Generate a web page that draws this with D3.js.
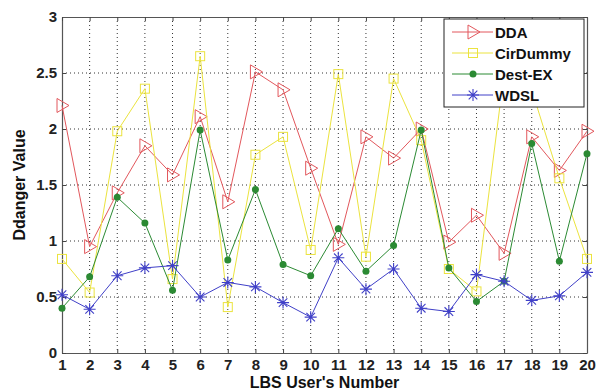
<!DOCTYPE html>
<html>
<head>
<meta charset="utf-8">
<script src="https://cdn.jsdelivr.net/npm/d3@7"></script>
<style>
  body { margin: 0; background: #fff; }
  text { font-family: "Liberation Sans", Arial, sans-serif; font-weight: bold; }
</style>
</head>
<body>
<svg id="chart" width="598" height="392"></svg>
<script>
const users = d3.range(1, 21);
const yTicks = [0, 0.5, 1, 1.5, 2, 2.5, 3];

const dda = [2.21, 0.95, 1.43, 1.85, 1.59, 2.11, 1.35, 2.51, 2.35, 1.65,
  0.97, 1.93, 1.74, 2.0, 0.99, 1.23, 0.89, 1.93, 1.63, 1.98];
const cirDummy = [0.84, 0.54, 1.98, 2.36, 0.66, 2.65, 0.41, 1.77, 1.93, 0.92,
  2.49, 0.86, 2.45, 1.9, 0.75, 0.55, 2.5, 2.35, 1.56, 0.84];
const destEx = [0.4, 0.68, 1.39, 1.16, 0.56, 1.99, 0.83, 1.46, 0.79, 0.69,
  1.11, 0.73, 0.96, 1.99, 0.76, 0.46, 0.64, 1.87, 0.82, 1.78];
const wdsl = [0.52, 0.39, 0.69, 0.76, 0.78, 0.5, 0.63, 0.59, 0.45, 0.32,
  0.85, 0.57, 0.75, 0.4, 0.37, 0.7, 0.64, 0.47, 0.51, 0.72];

const series = [
  { name: 'DDA', values: dda, color: '#e2575c', marker: 'tri' },
  { name: 'CirDummy', values: cirDummy, color: '#ebe33e', marker: 'square' },
  { name: 'Dest-EX', values: destEx, color: '#2b8a33', marker: 'dot' },
  { name: 'WDSL', values: wdsl, color: '#4040c8', marker: 'star' },
];

const margin = { top: 17, right: 11, bottom: 39, left: 62 };
const width = 598 - margin.left - margin.right;
const height = 392 - margin.top - margin.bottom;

const svg = d3.select('#chart');
const g = svg.append('g').attr('transform', `translate(${margin.left},${margin.top})`);

const x = d3.scaleLinear().domain([1, 20]).range([0, width]);
const y = d3.scaleLinear().domain([0, 3]).range([height, 0]);

// dotted grid
g.append('g')
  .selectAll('line')
  .data(users.slice(1, -1))
  .join('line')
  .attr('x1', (d) => x(d)).attr('x2', (d) => x(d))
  .attr('y1', 0).attr('y2', height)
  .attr('stroke', '#333').attr('stroke-width', 1)
  .attr('stroke-dasharray', '1,3');

g.append('g')
  .selectAll('line')
  .data(yTicks.slice(1, -1))
  .join('line')
  .attr('x1', 0).attr('x2', width)
  .attr('y1', (d) => y(d)).attr('y2', (d) => y(d))
  .attr('stroke', '#333').attr('stroke-width', 1)
  .attr('stroke-dasharray', '1,3');

// axes
const xAxis = g.append('g')
  .attr('transform', `translate(0,${height})`)
  .call(d3.axisBottom(x).tickValues(users).tickFormat(d3.format('d')).tickSizeInner(-4).tickSizeOuter(0).tickPadding(6));
const yAxis = g.append('g')
  .call(d3.axisLeft(y).tickValues(yTicks).tickFormat((d) => String(d)).tickSizeInner(-4).tickSizeOuter(0).tickPadding(5));
g.append('g')
  .call(d3.axisTop(x).tickValues(users).tickFormat('').tickSizeInner(-4).tickSizeOuter(0));
g.append('g')
  .attr('transform', `translate(${width},0)`)
  .call(d3.axisRight(y).tickValues(yTicks).tickFormat('').tickSizeInner(-4).tickSizeOuter(0));

g.selectAll('.domain').attr('stroke', '#555').attr('stroke-width', 1.2);
g.selectAll('.tick line').attr('stroke', '#444');
xAxis.selectAll('text').attr('font-size', 15).attr('fill', '#222');
yAxis.selectAll('text').attr('font-size', 15).attr('fill', '#222');

svg.append('text')
  .attr('x', margin.left + width / 2)
  .attr('y', 388)
  .attr('text-anchor', 'middle')
  .attr('font-size', 16)
  .attr('fill', '#111')
  .text("LBS  User's  Number");

svg.append('text')
  .attr('transform', `translate(25,${margin.top + height / 2}) rotate(-90)`)
  .attr('text-anchor', 'middle')
  .attr('font-size', 16)
  .attr('fill', '#111')
  .text('Ddanger  Value');

function drawMarker(sel, type, color) {
  if (type === 'tri') {
    sel.append('path').attr('d', 'M-5,-7L7,0L-5,7Z')
      .attr('fill', 'none').attr('stroke', color).attr('stroke-width', 1);
  } else if (type === 'square') {
    sel.append('rect').attr('x', -4.5).attr('y', -4.5).attr('width', 9).attr('height', 9)
      .attr('fill', 'none').attr('stroke', color).attr('stroke-width', 1);
  } else if (type === 'dot') {
    sel.append('circle').attr('r', 3.5).attr('fill', color);
  } else {
    sel.append('path')
      .attr('d', 'M-6,0L6,0M0,-6L0,6M-4.3,-4.3L4.3,4.3M-4.3,4.3L4.3,-4.3')
      .attr('stroke', color).attr('stroke-width', 1.1);
  }
}

const line = d3.line().x((d, i) => x(users[i])).y((d) => y(d));

series.forEach((s) => {
  const sg = g.append('g');
  sg.append('path')
    .datum(s.values)
    .attr('d', line)
    .attr('fill', 'none')
    .attr('stroke', s.color)
    .attr('stroke-width', 1);
  sg.selectAll('g.m')
    .data(s.values)
    .join('g')
    .attr('class', 'm')
    .attr('transform', (d, i) => `translate(${x(users[i])},${y(d)})`)
    .each(function () { drawMarker(d3.select(this), s.marker, s.color); });
});

// legend
const leg = svg.append('g').attr('transform', 'translate(444,19)');
leg.append('rect').attr('width', 140).attr('height', 88)
  .attr('fill', '#fff').attr('stroke', '#222').attr('stroke-width', 1);
series.forEach((s, i) => {
  const row = leg.append('g').attr('transform', `translate(0,${13 + i * 21})`);
  row.append('line').attr('x1', 8).attr('x2', 49).attr('y1', 0).attr('y2', 0)
    .attr('stroke', s.color).attr('stroke-width', 1);
  drawMarker(row.append('g').attr('transform', 'translate(29,0)'), s.marker, s.color);
  row.append('text').attr('x', 51).attr('y', 5.5)
    .attr('font-size', 15).attr('fill', '#111').text(s.name);
});
</script>
</body>
</html>
